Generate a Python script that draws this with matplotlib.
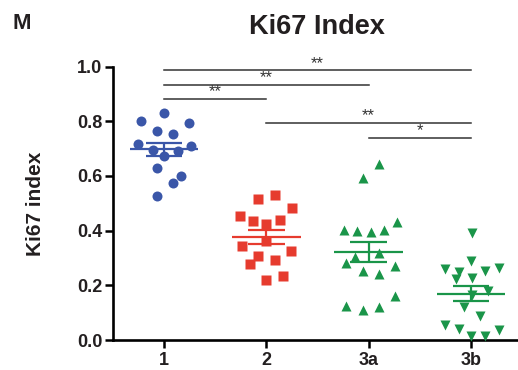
import numpy as np
import matplotlib
matplotlib.use('Agg')
from matplotlib import pyplot as plt

plt.rcParams['font.family'] = ['Liberation Sans', 'DejaVu Sans']

groups = ['1', '2', '3a', '3b']

g1 = [0.80, 0.83, 0.795, 0.765, 0.755, 0.718, 0.696, 0.674, 0.692, 0.711,
      0.63, 0.60, 0.575, 0.527]
g2 = [0.516, 0.529, 0.483, 0.453, 0.437, 0.425, 0.44, 0.364, 0.343, 0.327,
      0.306, 0.278, 0.293, 0.221, 0.233]
g3a = [0.645, 0.592, 0.431, 0.404, 0.397, 0.394, 0.404, 0.319, 0.303, 0.282,
       0.272, 0.254, 0.242, 0.162, 0.126, 0.111, 0.12]
g3b = [0.392, 0.29, 0.258, 0.248, 0.254, 0.263, 0.223, 0.226, 0.181, 0.165,
       0.12, 0.087, 0.055, 0.04, 0.014, 0.014, 0.037]

# horizontal scatter of the points (category units)
j1 = [-0.225, 0.0, 0.245, -0.07, 0.09, -0.255, -0.11, 0.0, 0.135, 0.265,
      -0.07, 0.165, 0.09, -0.07]
j2 = [-0.08, 0.08, 0.255, -0.255, -0.13, 0.0, 0.13, 0.0, -0.24, 0.245,
      -0.08, -0.16, 0.08, 0.0, 0.16]
j3a = [0.105, -0.06, 0.28, -0.24, -0.11, 0.02, 0.15, 0.105, -0.13, -0.22,
       0.26, -0.06, 0.105, 0.26, -0.22, -0.06, 0.105]
j3b = [0.01, 0.0, -0.25, -0.12, 0.14, 0.27, -0.15, 0.01, 0.17, 0.01,
       -0.07, 0.09, -0.25, -0.12, 0.0, 0.14, 0.27]

# significance: (group a, group b, y, label)
sig = [(0, 3, 0.987, '**'), (0, 2, 0.934, '**'), (0, 1, 0.883, '**'),
       (1, 3, 0.794, '**'), (2, 3, 0.74, '*')]

data = [g1, g2, g3a, g3b]
jit = [j1, j2, j3a, j3b]
colors = ['#3A56A8', '#E63B2E', '#1A9549', '#1A9549']
markers = ['o', 's', '^', 'v']
sizes = [7.2, 7.2, 7.2, 7.2]

fig = plt.figure(figsize=(5.18, 3.70), dpi=100)
ax = fig.add_axes([0.218, 0.081, 0.782, 0.739])

for i, (vals, jj) in enumerate(zip(data, jit)):
    v = np.array(vals)
    x = i + np.array(jj)
    ax.plot(x, v, ls='none', marker=markers[i], ms=sizes[i],
            color=colors[i], mec='none', clip_on=False, zorder=3)
    m = v.mean()
    sem = v.std(ddof=1) / np.sqrt(len(v))
    ax.hlines(m, i - 0.335, i + 0.335, color=colors[i], lw=1.6, zorder=4)
    ax.hlines([m - sem, m + sem], i - 0.18, i + 0.18, color=colors[i], lw=1.6, zorder=4)
    ax.vlines(i, m - sem, m + sem, color=colors[i], lw=1.6, zorder=4)

for a, b, y, lab in sig:
    ax.plot([a, b], [y, y], color='#333333', lw=1.1, clip_on=False)
    ax.annotate(lab, ((a + b) / 2, y), xytext=(0, 5), textcoords='offset points',
                ha='center', va='center', fontsize=12, color='#333333',
                annotation_clip=False)

ax.set_xlim(-0.5, 3.46)
ax.set_ylim(0, 1.0)
ax.set_xticks(range(4))
ax.set_xticklabels(groups)
ax.set_yticks(np.arange(0, 1.01, 0.2))
ax.set_yticklabels(['%.1f' % t for t in np.arange(0, 1.01, 0.2)])
for lab in ax.get_xticklabels() + ax.get_yticklabels():
    lab.set_fontweight('bold')
    lab.set_fontsize(13)
    lab.set_color('#231F20')
ax.tick_params(axis='x', direction='out', length=5.5, width=1.8, pad=3)
ax.tick_params(axis='y', direction='out', length=6, width=1.8, pad=1.5)
ax.spines['top'].set_visible(False)
ax.spines['right'].set_visible(False)
ax.spines['left'].set_linewidth(1.9)
ax.spines['bottom'].set_linewidth(1.9)
ax.set_ylabel('Ki67 index', fontsize=15, fontweight='bold', color='#231F20')
ax.yaxis.set_label_coords(-0.168, 0.5)

fig.text(0.612, 0.927, 'Ki67 Index', ha='center', va='center',
         fontsize=19.5, fontweight='bold', color='#231F20')
fig.text(0.024, 0.937, 'M', ha='left', va='center',
         fontsize=16, fontweight='bold', color='#231F20')

fig.savefig('out.png', dpi=100)
